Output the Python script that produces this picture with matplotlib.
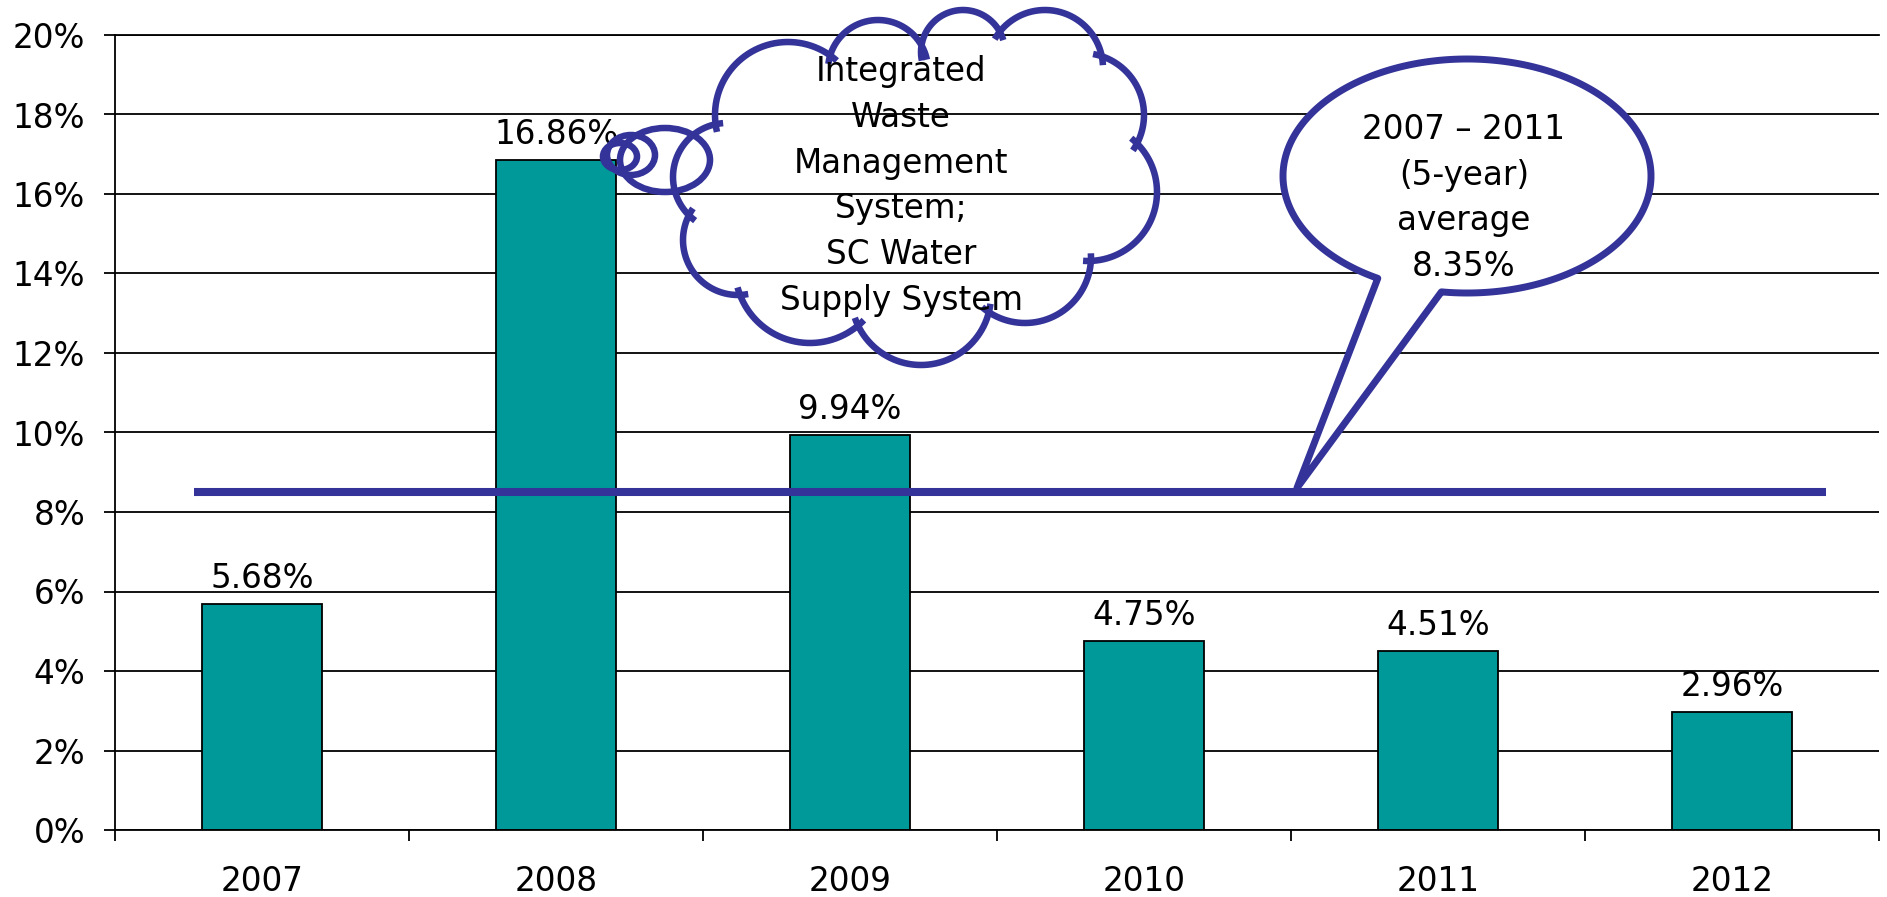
import numpy as np
import matplotlib.pyplot as plt
from matplotlib.patches import Ellipse, Polygon
from matplotlib.path import Path

years = ['2007', '2008', '2009', '2010', '2011', '2012']
rates = [5.68, 16.86, 9.94, 4.75, 4.51, 2.96]
rate_labels = ['5.68%', '16.86%', '9.94%', '4.75%', '4.51%', '2.96%']
y_ticks = [0, 2, 4, 6, 8, 10, 12, 14, 16, 18, 20]

# the average line sits a little above 8.35 in the picture
avg_level = 8.5
avg_text = '2007 \u2013 2011\n(5-year)\naverage\n8.35%'
cloud_text = 'Integrated\nWaste\nManagement\nSystem;\nSC Water\nSupply System'

TEAL = '#009999'
NAVY = '#333399'
W, H = 1887, 897

plt.rcParams['font.family'] = ['DejaVu Sans']
plt.rcParams['font.size'] = 23.5

fig = plt.figure(figsize=(W / 100, H / 100), dpi=100)
ax = fig.add_axes([115 / W, 67 / H, 1764 / W, 795 / H])

x = np.arange(len(years))
ax.bar(x, rates, width=0.405, color=TEAL, edgecolor='black', linewidth=1.3, zorder=2)
for xi, v, lab in zip(x, rates, rate_labels):
    ax.annotate(lab, (xi, v), xytext=(0, 6.5), textcoords='offset points',
                ha='center', va='bottom')

ax.hlines(avg_level, -0.23, 5.32, color=NAVY, lw=5.8, zorder=3)

ax.set_xlim(-0.5, 5.5)
ax.set_ylim(0, 20)
ax.set_yticks(y_ticks)
ax.set_yticklabels([f'{t}%' for t in y_ticks])
ax.yaxis.grid(True, color='black', lw=1.3)
ax.set_axisbelow(True)

ax.set_xticks(np.arange(len(years) + 1) - 0.5)
ax.set_xticklabels([])
ax.set_xticks(x, minor=True)
ax.set_xticklabels(years, minor=True)
ax.tick_params(axis='x', which='major', length=8, width=1.3)
ax.tick_params(axis='x', which='minor', length=0, pad=25)
ax.tick_params(axis='y', length=8, width=1.3, pad=13.5)
ax.spines['right'].set_visible(False)
for s in ['left', 'bottom', 'top']:
    ax.spines[s].set_linewidth(1.3)

# overlay in pixel space for the callouts
ov = fig.add_axes([0, 0, 1, 1], zorder=5)
ov.set_xlim(0, W)
ov.set_ylim(H, 0)
ov.set_facecolor('none')
ov.axis('off')

# cloud made of lobes, only outer arcs drawn
lobes = [(788, 115, 73), (878, 70, 50), (963, 52, 42), (1045, 68, 58),
         (1082, 115, 62), (1088, 192, 69), (1025, 257, 66), (921, 295, 70),
         (810, 268, 75), (738, 240, 55), (727, 177, 54)]
core = Path([(c[0], c[1]) for c in lobes] + [(lobes[0][0], lobes[0][1])])
hook = 8
for i, (cx, cy, r) in enumerate(lobes):
    t = np.linspace(0, 2 * np.pi, 900)
    px = cx + r * np.cos(t)
    py = cy + r * np.sin(t)
    keep = ~core.contains_points(np.column_stack([px, py]))
    for j, (ox, oy, orr) in enumerate(lobes):
        if j != i:
            keep &= np.hypot(px - ox, py - oy) > orr - hook
    if not keep.all():
        k = int(np.argmin(keep))
        px, py, keep = np.roll(px, -k), np.roll(py, -k), np.roll(keep, -k)
    ov.plot(np.where(keep, px, np.nan), np.where(keep, py, np.nan),
            color=NAVY, lw=4.7, solid_capstyle='butt')

for (ex, ey, ew, eh) in [(620, 156.5, 34, 27), (631, 155, 48, 40), (665, 160, 90, 64)]:
    ov.add_patch(Ellipse((ex, ey), ew, eh, fill=False, ec=NAVY, lw=4.7))

ov.text(901, 186, cloud_text, ha='center', va='center', multialignment='center',
        linespacing=1.49)

# speech bubble pointing at the average line
bx, by, ba, bb = 1467, 176, 184, 117
t = np.radians(np.linspace(119, 458, 300))
arc = np.column_stack([bx + ba * np.cos(t), by + bb * np.sin(t)])
tip = ov.transData.inverted().transform(ax.transData.transform((3.52, avg_level + 0.1)))
ov.add_patch(Polygon(np.vstack([arc, tip]), closed=True, fc='white', ec=NAVY,
                     lw=5, joinstyle='round'))
ov.text(1464, 198, avg_text, ha='center', va='center', multialignment='center',
        linespacing=1.49)

fig.savefig('out.png', dpi=100)
